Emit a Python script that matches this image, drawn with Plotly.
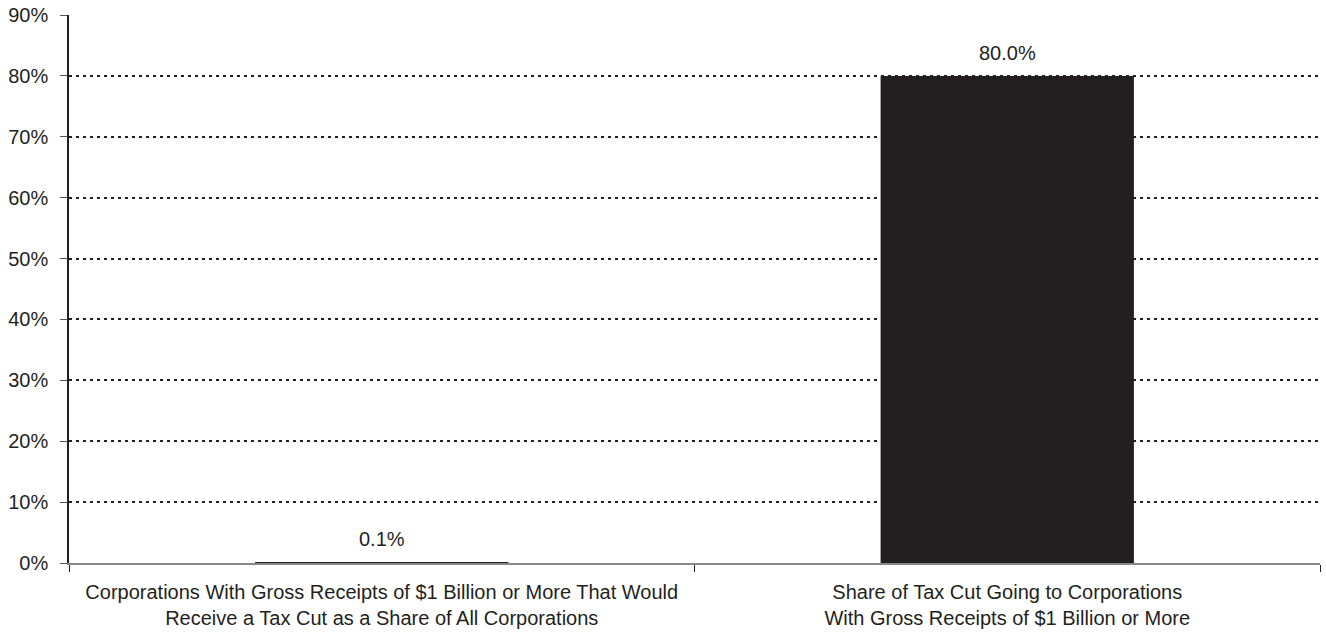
import plotly.graph_objects as go

categories = [
    "Corporations With Gross Receipts of $1 Billion or More That Would<br>Receive a Tax Cut as a Share of All Corporations",
    "Share of Tax Cut Going to Corporations<br>With Gross Receipts of $1 Billion or More",
]
values = [0.1, 80.0]
labels = ["0.1%", "80.0%"]
tick_vals = [0, 10, 20, 30, 40, 50, 60, 70, 80, 90]
tick_text = ["0%", "10%", "20%", "30%", "40%", "50%", "60%", "70%", "80%", "90%"]

font_family = "Liberation Sans, Arial, sans-serif"
fs = 20

fig = go.Figure()
fig.add_trace(go.Bar(
    x=categories, y=values, width=0.405,
    marker=dict(color="#231f20", line=dict(width=0)),
))
for c, v, t in zip(categories, values, labels):
    fig.add_annotation(x=c, y=v, text=t, showarrow=False, yanchor="bottom",
                       yshift=10, font=dict(size=fs, color="#231f20"))

fig.update_layout(
    width=1326, height=637,
    margin=dict(l=69, r=6, t=15, b=74),
    plot_bgcolor="white", paper_bgcolor="white",
    showlegend=False,
    font=dict(family=font_family, size=fs, color="#231f20"),
)
fig.update_yaxes(
    range=[0, 90], tickvals=tick_vals, ticktext=tick_text,
    showgrid=True, gridcolor="#231f20", griddash="3px,4px", gridwidth=2,
    showline=True, linecolor="#231f20", linewidth=1.5,
    ticks="outside", ticklen=7, tickcolor="#555555",
    zeroline=False, tickfont=dict(size=fs), ticklabelstandoff=8,
    automargin=False,
)
fig.update_xaxes(
    showline=True, linecolor="#888888", linewidth=2,
    ticks="outside", tickson="boundaries", ticklen=7, tickcolor="#231f20",
    tickfont=dict(size=fs), showgrid=False, ticklabelstandoff=10,
    automargin=False,
)
fig.write_html("out.html")
